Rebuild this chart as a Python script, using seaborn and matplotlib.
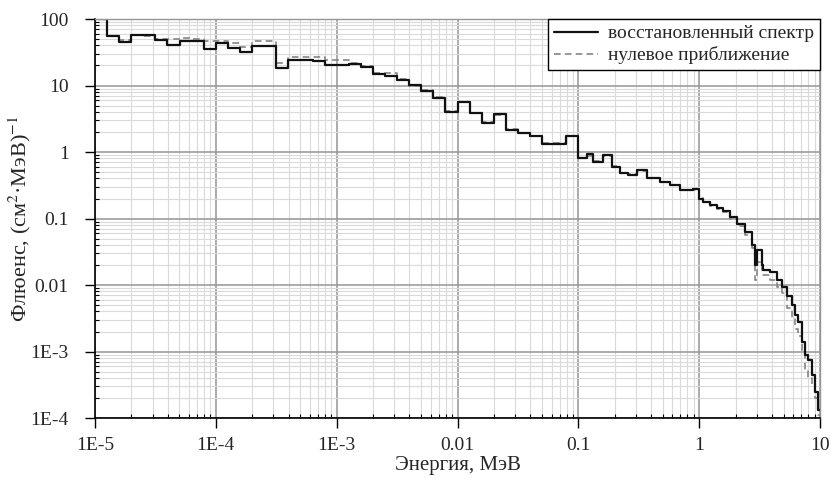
import numpy as np
import pandas as pd
import seaborn as sns
import matplotlib.pyplot as plt

# Стиль
sns.set_style('whitegrid')
plt.rcParams['font.family'] = ['Liberation Serif', 'DejaVu Serif']
plt.rcParams['mathtext.fontset'] = 'stix'

# Границы энергетических групп, МэВ
energy_edges = [
    1.00e-5, 1.26e-5, 1.58e-5, 2.00e-5, 2.51e-5, 3.16e-5, 3.98e-5, 5.01e-5, 6.31e-5, 7.94e-5,
    1.00e-4, 1.26e-4, 1.58e-4, 2.00e-4, 2.51e-4, 3.16e-4, 3.98e-4, 5.01e-4, 6.31e-4, 7.94e-4,
    1.00e-3, 1.26e-3, 1.58e-3, 2.00e-3, 2.51e-3, 3.16e-3, 3.98e-3, 5.01e-3, 6.31e-3, 7.94e-3,
    1.00e-2, 1.26e-2, 1.58e-2, 2.00e-2, 2.51e-2, 3.16e-2, 3.98e-2, 5.01e-2, 6.31e-2, 7.94e-2,
    0.100, 0.118, 0.132, 0.160, 0.190, 0.220, 0.258, 0.306, 0.370, 0.474, 0.574, 0.693, 0.890,
    1.00, 1.076, 1.23, 1.40, 1.57, 1.80, 2.06, 2.39, 2.74, 2.90, 3.01, 3.31, 3.38, 3.86, 4.41,
    4.85, 5.33, 5.87, 6.21, 6.58, 7.10, 7.52, 7.96, 8.59, 9.10, 9.64, 10.0,
]

# Восстановленный спектр (значения в группах)
flu_restored = [
    100, 56, 45, 57, 57, 48, 40, 46, 46, 36,
    43, 37, 31.5, 39, 39, 18.3, 24, 23.8, 23.6, 20.3,
    20.3, 21, 19.2, 14.7, 13.9, 12.1, 10.2, 8.4, 6.6, 4.0,
    5.7, 3.8, 2.76, 3.7, 2.14, 1.91, 1.74, 1.33, 1.33, 1.75,
    0.80, 0.92, 0.71, 0.90, 0.60, 0.48, 0.45, 0.54, 0.40, 0.36, 0.32, 0.27, 0.28,
    0.20, 0.18, 0.16, 0.145, 0.13, 0.107, 0.083, 0.062, 0.040, 0.020, 0.034, 0.020, 0.017,
    0.0155, 0.012, 0.0095, 0.0068, 0.005, 0.0035, 0.0028, 0.0014, 0.0009, 0.00075, 0.00045,
    0.00025, 0.00013,
]

# Нулевое приближение
flu_initial = [
    100, 56, 48, 57, 55, 50, 50, 52, 50, 47,
    47, 43, 38, 47, 47, 21.6, 27, 27, 26.5, 24.5,
    24.5, 22, 19.5, 15.6, 15.2, 12.4, 10.0, 8.6, 6.7, 4.1,
    5.6, 3.9, 2.8, 3.6, 2.2, 1.95, 1.75, 1.36, 1.36, 1.72,
    0.82, 0.88, 0.74, 0.86, 0.62, 0.49, 0.46, 0.52, 0.41, 0.36, 0.32, 0.27, 0.27,
    0.21, 0.18, 0.155, 0.14, 0.125, 0.10, 0.078, 0.057, 0.036, 0.012, 0.022, 0.017, 0.014,
    0.012, 0.0095, 0.0075, 0.0045, 0.0032, 0.0022, 0.0017, 0.0010, 0.00055, 0.0004, 0.0003,
    0.0002, 0.00011,
]

x_ticks = [1e-5, 1e-4, 1e-3, 1e-2, 1e-1, 1, 10]
x_labels = ['1E-5', '1E-4', '1E-3', '0.01', '0.1', '1', '10']
y_ticks = [1e-4, 1e-3, 1e-2, 1e-1, 1, 10, 100]
y_labels = ['1E-4', '1E-3', '0.01', '0.1', '1', '10', '100']

df = pd.DataFrame({
    'E': energy_edges,
    'restored': flu_restored + [flu_restored[-1]],
    'initial': flu_initial + [flu_initial[-1]],
})

fig = plt.figure(figsize=(8.31, 4.79), dpi=100)
ax = fig.add_axes([0.1143, 0.1273, 0.8725, 0.833])

sns.lineplot(data=df, x='E', y='initial', ax=ax, color='#858585', linewidth=1.2,
             linestyle=(0, (4, 2.5)), drawstyle='steps-post', estimator=None, sort=False,
             label='нулевое приближение')
sns.lineplot(data=df, x='E', y='restored', ax=ax, color='#111111', linewidth=1.6,
             drawstyle='steps-post', estimator=None, sort=False,
             label='восстановленный спектр')

ax.set_xscale('log')
ax.set_yscale('log')
ax.set_xlim(1e-5, 10)
ax.set_ylim(1e-4, 100)
ax.set_xticks(x_ticks, x_labels)
ax.set_yticks(y_ticks, y_labels)

# Сетка
ax.grid(which='major', color='#959595', linewidth=1.1)
ax.grid(which='minor', color='#dadada', linewidth=0.8)
ax.tick_params(axis='both', which='both', left=True, bottom=True)
ax.tick_params(which='major', direction='out', length=7, width=1, color='black',
               labelsize=14)
ax.tick_params(axis='x', which='major', pad=7)
ax.tick_params(axis='y', which='major', pad=12)
ax.tick_params(which='minor', direction='in', length=3, width=0.8, color='black')
for side in ['left', 'bottom']:
    ax.spines[side].set_color('black')
    ax.spines[side].set_linewidth(1.2)
for side in ['top', 'right']:
    ax.spines[side].set_color('#959595')
    ax.spines[side].set_linewidth(1.0)

ax.set_xlabel('Энергия, МэВ', fontsize=15, labelpad=1)
ax.set_ylabel(r'Флюенс, (см$^2$·МэВ)$^{-1}$', fontsize=16, labelpad=-2)

handles, labels = ax.get_legend_handles_labels()
leg = ax.legend(handles[::-1], labels[::-1], loc='upper right', fontsize=14,
                frameon=True, fancybox=False, edgecolor='black', framealpha=1,
                borderaxespad=0, handlelength=2.3, borderpad=0.3, labelspacing=0.2,
                handletextpad=0.5)
leg.get_frame().set_linewidth(1.0)

plt.savefig('out.png', dpi=100)
